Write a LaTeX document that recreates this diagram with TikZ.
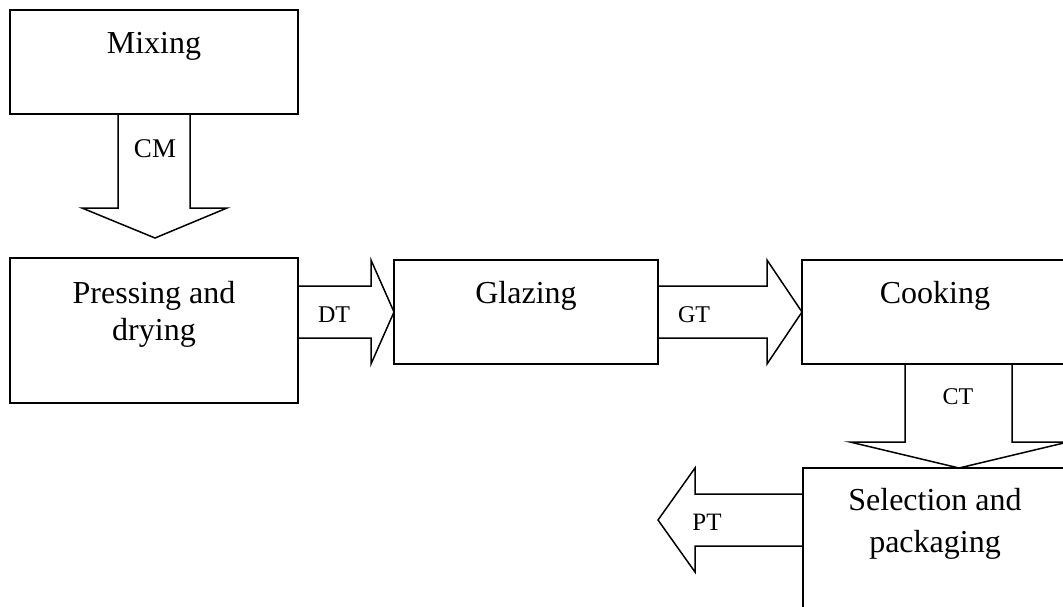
\documentclass[tikz,border=0pt]{standalone}
\usepackage{fontspec}
\setmainfont{Liberation Serif}
\begin{document}
\begin{tikzpicture}[x=1pt,y=-1pt,
  box/.style={draw,line width=1.5pt,rectangle,anchor=north west,inner sep=0pt,outer sep=0pt},
  boxtext/.style={anchor=base,inner sep=0pt,font=\fontsize{32}{42}\selectfont,align=center},
  lbl/.style={anchor=base,inner sep=0pt,font=\fontsize{24}{28}\selectfont},
  blockarrow/.style={draw,line width=1.5pt,line join=miter}]
\useasboundingbox (0,0) rectangle (1063,606);
\clip (0,0) rectangle (1063,606);
% boxes
\node[box,minimum width=288pt,minimum height=104pt] (mix) at (10,10) {};
\node[box,minimum width=288pt,minimum height=145pt] (press) at (10,258) {};
\node[box,minimum width=264pt,minimum height=104pt] (glaz) at (394,260) {};
\node[box,minimum width=266pt,minimum height=104pt] (cook) at (802,260) {};
\node[box,minimum width=266pt,minimum height=180pt] (sel) at (803,468) {};
% box texts (base = baseline of last line)
\node[boxtext] (tmix) at (154,53) {Mixing};
\node[boxtext,font=\fontsize{32}{37}\selectfont] (tpress) at (154,340) {Pressing and\\drying};
\node[boxtext] (tglaz) at (526,303) {Glazing};
\node[boxtext] (tcook) at (935,303) {Cooking};
\node[boxtext] (tsel) at (935,552) {Selection and\\packaging};
% block arrows
\draw[blockarrow] (mix.south) ++(-36,0) -- ++(0,94) -- ++(-36,0) -- (155,238) coordinate (cmtip)
  -- (227,208) -- (190,208) -- (190,114);
\draw[blockarrow] (298,286) -- (371,286) -- (371,260) -- (glaz.west) -- (371,364) -- (371,338) -- (298,338);
\draw[blockarrow] (glaz.east |- 0,286) -- (767,286) -- (767,260) -- (cook.west) -- (767,364) -- (767,338) -- (glaz.east |- 0,338);
\draw[blockarrow] (905,364) -- (905,442) -- (850,442) -- (959,468) -- (1068,442) -- (1012,442) -- (1012,364);
\draw[blockarrow] (sel.west |- 0,494) -- (695,494) -- (695,468) -- (658,520) coordinate (pttip) -- (695,572) -- (695,546) -- (sel.west |- 0,546);
% arrow labels
\node[lbl,font=\fontsize{27}{30}\selectfont] (cm) at (155,157) {CM};
\node[lbl] (dt) at (334,322) {DT};
\node[lbl] (gt) at (694,322) {GT};
\node[lbl] (ct) at (958,404) {CT};
\node[lbl,font=\fontsize{25}{28}\selectfont] (pt) at (707,530) {PT};
\end{tikzpicture}
\end{document}
